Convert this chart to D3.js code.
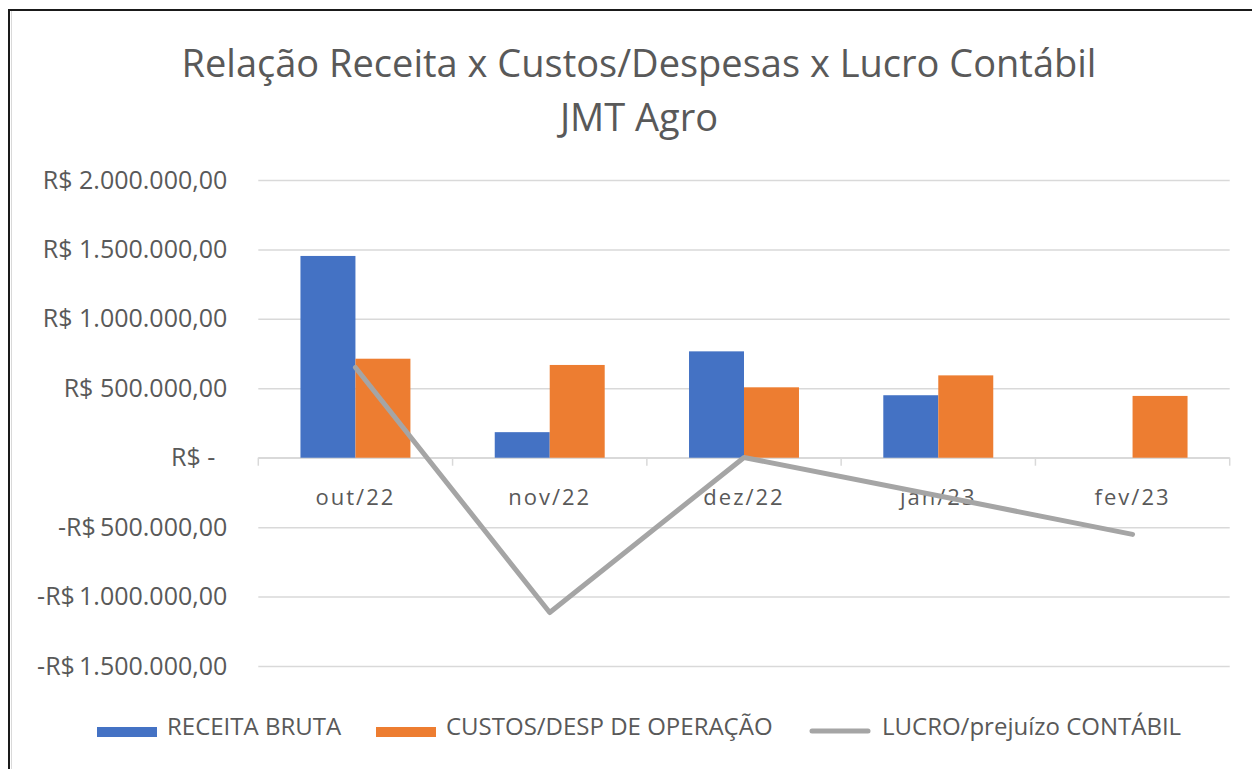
<!DOCTYPE html>
<html>
<head>
<meta charset="utf-8">
<script src="https://cdn.jsdelivr.net/npm/d3@7"></script>
<style>
  body { margin: 0; background: #fff; }
  text { font-family: "Open Sans", sans-serif; fill: #595959; }
</style>
</head>
<body>
<svg width="1252" height="769"></svg>
<script>
// dados
const meses = ["out/22", "nov/22", "dez/22", "jan/23", "fev/23"];
const receitaBruta = [1453000, 184000, 766000, 450000, 0];
const custosDesp = [713000, 668000, 507000, 593000, 445000];
const lucroContabil = [650000, -1115000, 2000, -274000, -552000];
const yTicks = [-1500000, -1000000, -500000, 0, 500000, 1000000, 1500000, 2000000];
const nomesSeries = ["RECEITA BRUTA", "CUSTOS/DESP DE OPERAÇÃO", "LUCRO/prejuízo CONTÁBIL"];
const cores = ["#4472C4", "#ED7D31", "#A5A5A5"];

const svg = d3.select("svg");
const W = +svg.attr("width"), H = +svg.attr("height");

svg.append("rect").attr("width", W).attr("height", H).attr("fill", "#fff");

// moldura (só esquerda e topo aparecem)
svg.append("line").attr("x1", 11.5).attr("x2", 11.5).attr("y1", 11).attr("y2", H)
    .attr("stroke", "#d9d9d9").attr("stroke-width", 1);
svg.append("rect").attr("x", 9).attr("y", 10).attr("width", W + 20).attr("height", H + 20)
    .attr("fill", "none").attr("stroke", "#1a1a1a").attr("stroke-width", 2);

// título
const titulo = svg.append("text").attr("text-anchor", "middle").style("font-size", "38px");
titulo.append("tspan").attr("x", 639).attr("y", 77).text("Relação Receita x Custos/Despesas x Lucro Contábil");
titulo.append("tspan").attr("x", 639).attr("y", 131).text("JMT Agro");

const left = 258.3, right = 1229.7;

const x = d3.scaleBand().domain(meses).range([left, right]).paddingInner(0.434).paddingOuter(0.217);
const xs = d3.scaleBand().domain([0, 1]).range([0, x.bandwidth()]);
const y = d3.scaleLinear().domain([-1500000, 2000000]).range([666, 180]);

// formato R$ (pt-BR)
const br = d3.formatLocale({decimal: ",", thousands: ".", grouping: [3], currency: ["R$ ", ""]});
const num = br.format(",.2f");
function moeda(v) {
    if (v === 0) return "R$ -";
    return v < 0 ? "-R$\u2009" + num(-v) : "R$ " + num(v);
}

// eixo y + grade
const yAxis = svg.append("g").attr("transform", `translate(${left},0)`)
    .call(d3.axisLeft(y).tickValues(yTicks).tickSize(-(right - left)).tickPadding(31).tickFormat(moeda));
yAxis.select(".domain").remove();
yAxis.selectAll(".tick line").attr("stroke", "#d9d9d9").attr("stroke-width", 1.5);
yAxis.selectAll(".tick text").style("font-size", "25px").attr("fill", "#595959")
    .attr("dx", d => d === 0 ? -12 : 0);

// eixo x na linha do zero
const y0 = y(0);
svg.append("line").attr("x1", left).attr("x2", right).attr("y1", y0).attr("y2", y0)
    .attr("stroke", "#d9d9d9").attr("stroke-width", 1.5);
svg.append("g").selectAll("line")
    .data(d3.range(meses.length + 1))
    .join("line")
    .attr("x1", i => left + i * x.step()).attr("x2", i => left + i * x.step())
    .attr("y1", y0).attr("y2", y0 + 8)
    .attr("stroke", "#d9d9d9").attr("stroke-width", 1.5);

const xAxis = svg.append("g").attr("transform", `translate(0,${y0})`)
    .call(d3.axisBottom(x).tickSize(0).tickPadding(32));
xAxis.select(".domain").remove();
xAxis.selectAll(".tick text").style("font-size", "22px").style("letter-spacing", "2px").attr("fill", "#595959");

// barras
const barras = [receitaBruta, custosDesp];
barras.forEach((serie, s) => {
    svg.append("g").selectAll("rect")
        .data(meses.map((m, i) => ({m, v: serie[i]})))
        .join("rect")
        .attr("x", d => x(d.m) + xs(s))
        .attr("width", xs.bandwidth())
        .attr("y", d => y(Math.max(0, d.v)))
        .attr("height", d => Math.abs(y(d.v) - y0))
        .attr("fill", cores[s]);
});

// linha do lucro
const linha = d3.line()
    .x((d, i) => x(meses[i]) + x.bandwidth() / 2)
    .y(d => y(d));
svg.append("path").datum(lucroContabil)
    .attr("d", linha)
    .attr("fill", "none").attr("stroke", cores[2]).attr("stroke-width", 5)
    .attr("stroke-linejoin", "round").attr("stroke-linecap", "round");

// legenda
const legX = [97, 376, 810];
const leg = svg.append("g").selectAll("g").data(nomesSeries).join("g")
    .attr("transform", (d, i) => `translate(${legX[i]},0)`);
leg.filter((d, i) => i < 2).append("rect")
    .attr("y", 727).attr("width", 60).attr("height", 10)
    .attr("fill", (d, i) => cores[i]);
leg.filter((d, i) => i === 2).append("line")
    .attr("x1", 2).attr("x2", 58).attr("y1", 731).attr("y2", 731)
    .attr("stroke", cores[2]).attr("stroke-width", 5).attr("stroke-linecap", "round");
leg.append("text")
    .attr("x", (d, i) => i === 2 ? 72 : 70).attr("y", 735)
    .style("font-size", "24px")
    .text(d => d);
</script>
</body>
</html>
